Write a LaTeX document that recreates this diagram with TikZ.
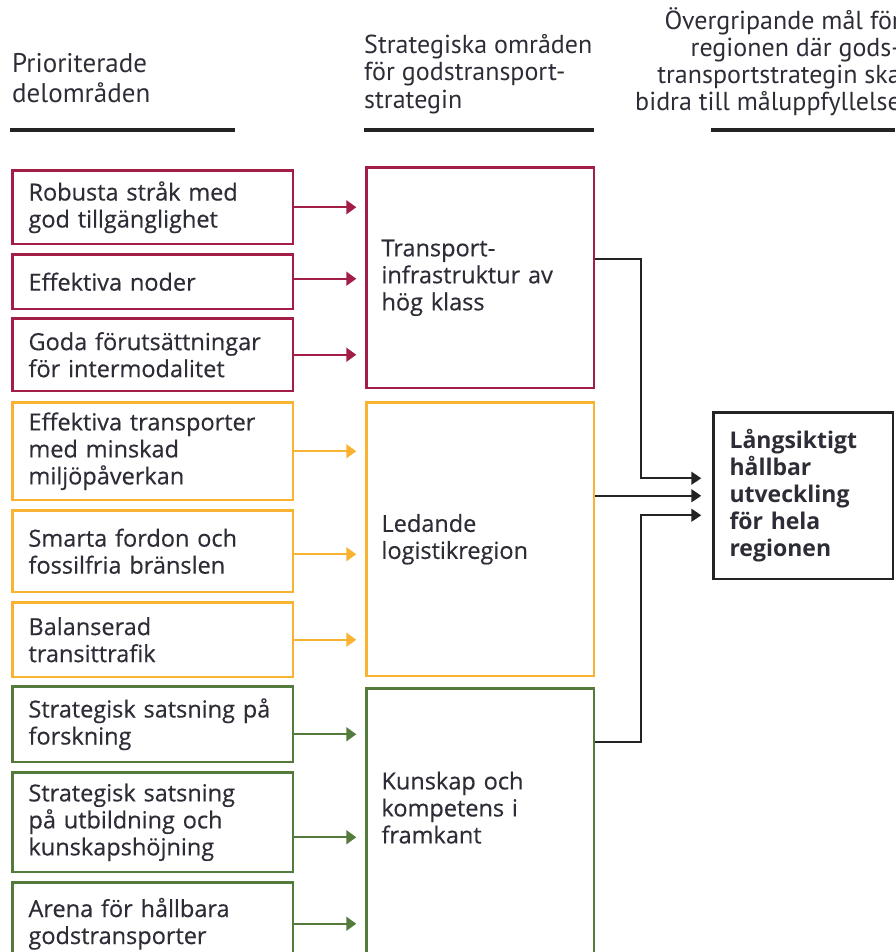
\documentclass[tikz,border=0pt]{standalone}
\usepackage{fontspec}
\setmainfont{Open Sans}[UprightFeatures={FakeBold=0.4}]
\newfontfamily\headfont{PT Sans}
\usepackage{xcolor}
\usepackage{tikz}
\usetikzlibrary{arrows.meta, positioning}
\definecolor{areared}{RGB}{163,30,70}
\definecolor{areaorange}{RGB}{250,178,50}
\definecolor{areagreen}{RGB}{84,122,60}
\definecolor{textgray}{RGB}{45,45,55}
\definecolor{linegray}{RGB}{35,35,35}
\tikzstyle{sub} = [rectangle, draw, line width=2.5pt, fill=white, anchor=north west, minimum width=280.5pt, text width=248.5pt, inner xsep=16pt, inner ysep=0pt, align=left, text=textgray, font=\fontsize{23.5}{27}\selectfont]
\tikzstyle{area} = [rectangle, draw, line width=2.5pt, fill=white, anchor=north west, minimum width=227.5pt, text width=197.5pt, inner xsep=15pt, inner ysep=0pt, align=left, text=textgray, font=\fontsize{23.5}{27}\selectfont]
\tikzstyle{goal} = [rectangle, draw=linegray, line width=2.5pt, fill=white, anchor=north west, minimum width=179.5pt, text width=147.5pt, inner xsep=16pt, inner ysep=0pt, align=left, text=textgray, font=\fontsize{23}{27}\selectfont\bfseries]
\tikzstyle{head} = [inner sep=0pt, text=textgray, font=\headfont\fontsize{26}{27.5}\selectfont]
\tikzstyle{rule} = [line width=4pt, draw=linegray]
\tikzstyle{arrow} = [line width=2pt, -{Triangle[length=10pt,width=14pt]}, shorten >=9pt]
\tikzstyle{link} = [line width=1.6pt, draw=linegray, -{Triangle[length=10pt,width=13pt]}, shorten >=11pt]

\begin{document}
\begin{tikzpicture}[x=1pt, y=-1pt]
\useasboundingbox (0,0) rectangle (895,952);
\clip (0,0) rectangle (895,952);

% headers
\node (hSub) [head, anchor=west, align=left, font=\headfont\fontsize{27}{30}\selectfont] at (12,78) {Prioriterade\\delområden};
\node (hArea) [head, anchor=west, align=left] at (364,74) {Strategiska områden\\för godstransport-\\strategin};
\node (hGoal) [head, anchor=east, align=right, font=\headfont\fontsize{26}{27}\selectfont] at (901,62) {Övergripande mål för\\regionen där gods-\\transportstrategin ska\\bidra till måluppfyllelse};
\draw [rule] (10,130) -- (235,130);
\draw [rule] (364,130) -- (594,130);
\draw [rule] (711,130) -- (895,130);

% strategic areas
\node (mA) [area, draw=areared, minimum height=220.5pt] at (365.25,166.25) {Transport-\\infrastruktur av\\hög klass};
\node (mB) [area, draw=areaorange, minimum height=273.5pt] at (365.25,401.25) {Ledande\\logistikregion};
\node (mC) [area, draw=areagreen, minimum height=277pt, text depth=93pt] at (365.25,687.25) {Kunskap och\\kompetens i\\framkant};

% sub areas
\node (s1) [sub, draw=areared, minimum height=73.5pt] at (11.25,169.25) {Robusta stråk med\\god tillgänglighet};
\node (s2) [sub, draw=areared, minimum height=54.5pt] at (11.25,253.25) {Effektiva noder};
\node (s3) [sub, draw=areared, minimum height=72.5pt] at (11.25,317.25) {Goda förutsättningar\\för intermodalitet};
\node (s4) [sub, draw=areaorange, minimum height=97.5pt] at (11.25,401.25) {Effektiva transporter\\med minskad\\miljöpåverkan};
\node (s5) [sub, draw=areaorange, minimum height=81.5pt] at (11.25,509.25) {Smarta fordon och\\fossilfria bränslen};
\node (s6) [sub, draw=areaorange, minimum height=74.5pt] at (11.25,601.25) {Balanserad\\transittrafik};
\node (s7) [sub, draw=areagreen, minimum height=75.5pt] at (11.25,685.25) {Strategisk satsning på\\forskning};
\node (s8) [sub, draw=areagreen, minimum height=99.5pt] at (11.25,771.25) {Strategisk satsning\\på utbildning och\\kunskapshöjning};
\node (s9) [sub, draw=areagreen, minimum height=82.5pt] at (11.25,881.25) {Arena för hållbara\\godstransporter};

% goal
\node (goal) [goal, minimum height=166.5pt] at (712.25,411.25) {Långsiktigt\\hållbar\\utveckling\\för hela\\regionen};

\draw [arrow, areared] (s1.east) -- (s1.east -| mA.west);
\draw [arrow, areared] ([yshift=3pt]s2.east) -- ([yshift=3pt]s2.east -| mA.west);
\draw [arrow, areared] (s3.east) -- (s3.east -| mA.west);
\draw [arrow, areaorange] (s4.east) -- (s4.east -| mB.west);
\draw [arrow, areaorange] ([yshift=-3pt]s5.east) -- ([yshift=-3pt]s5.east -| mB.west);
\draw [arrow, areaorange] (s6.east) -- (s6.east -| mB.west);
\draw [arrow, areagreen] ([yshift=-10pt]s7.east) -- ([yshift=-10pt]s7.east -| mC.west);
\draw [arrow, areagreen] ([yshift=-15pt]s8.east) -- ([yshift=-15pt]s8.east -| mC.west);
\draw [arrow, areagreen] (s9.east) -- (s9.east -| mC.west);

\draw [link] ([yshift=18.5pt]mA.east) -| ([xshift=-71.25pt,yshift=17.5pt]goal.west) -- ([yshift=17.5pt]goal.west);
\draw [link] (goal.west -| mB.east) -- (goal.west);
\draw [link] ([yshift=84.75pt]mC.east) -| ([xshift=-71.25pt,yshift=-19.5pt]goal.west) -- ([yshift=-19.5pt]goal.west);

\end{tikzpicture}
\end{document}
